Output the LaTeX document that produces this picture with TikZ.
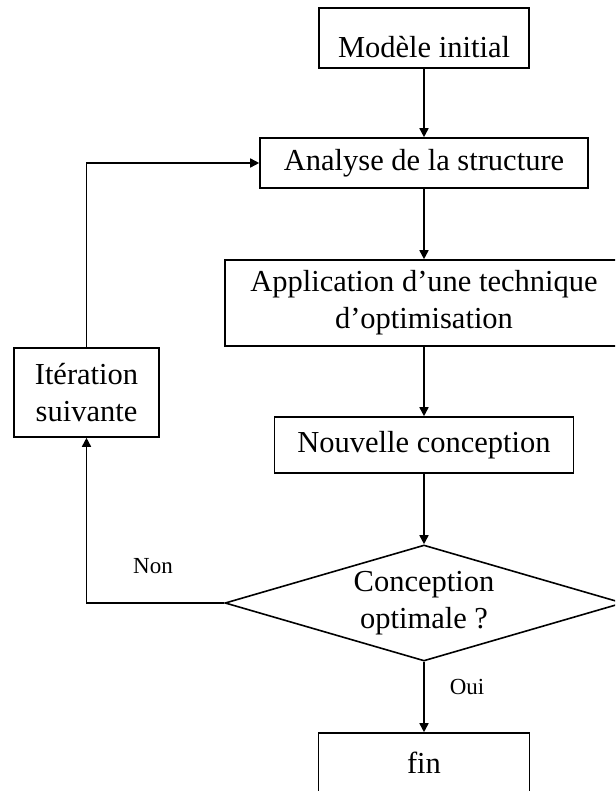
\documentclass[tikz,border=0pt]{standalone}
\usepackage{fontspec}
\setmainfont{Liberation Serif}
\usetikzlibrary{shapes.geometric,arrows.meta}

\begin{document}
\begin{tikzpicture}[x=1pt,y=-1pt,
  box/.style={draw, line width=1.6pt, inner sep=0pt, align=center, font=\fontsize{30.5}{36.7}\selectfont},
  decision/.style={diamond, draw, line width=1.6pt, inner sep=0pt, aspect=3.43, minimum width=398pt, minimum height=116pt, align=center, font=\fontsize{30.5}{36.7}\selectfont},
  arr/.style={line width=1.6pt, -{Triangle[length=9pt,width=9pt]}},
  lbl/.style={font=\fontsize{23}{27}\selectfont}]
\useasboundingbox (0,0) rectangle (615,791);
\clip (0,0) rectangle (615,791);
\node [box, minimum width=210pt, minimum height=60pt, text height=40pt, text depth=0pt] (init) at (424,38) {Modèle initial};
\node [box, minimum width=328pt, minimum height=50pt] (analyse) at (424,163) {Analyse de la structure};
\node [box, minimum width=398pt, minimum height=86pt] (appli) at (424,303) {Application d’une technique\\d’optimisation};
\node [box, minimum width=299pt, minimum height=56pt] (nouv) at (424,445) {Nouvelle conception};
\node [decision] (optim) at (424,603) {Conception\\optimale ?};
\node [box, minimum width=211pt, minimum height=60pt] (fin) at (424,763) {fin};
\node [box, minimum width=145pt, minimum height=89pt] (iter) at (86.5,392.5) {Itération\\suivante};
\node [lbl] (non) at (153,566) {Non};
\node [lbl] (oui) at (467,687) {Oui};
\draw [arr] (init) -- (analyse);
\draw [arr] (analyse) -- (appli);
\draw [arr] (appli) -- (nouv);
\draw [arr] (nouv) -- (optim);
\draw [arr] (optim) -- (fin);
\draw [arr] (optim.west) -| (iter.south);
\draw [arr] (iter.north) |- (analyse.west);
\end{tikzpicture}
\end{document}
